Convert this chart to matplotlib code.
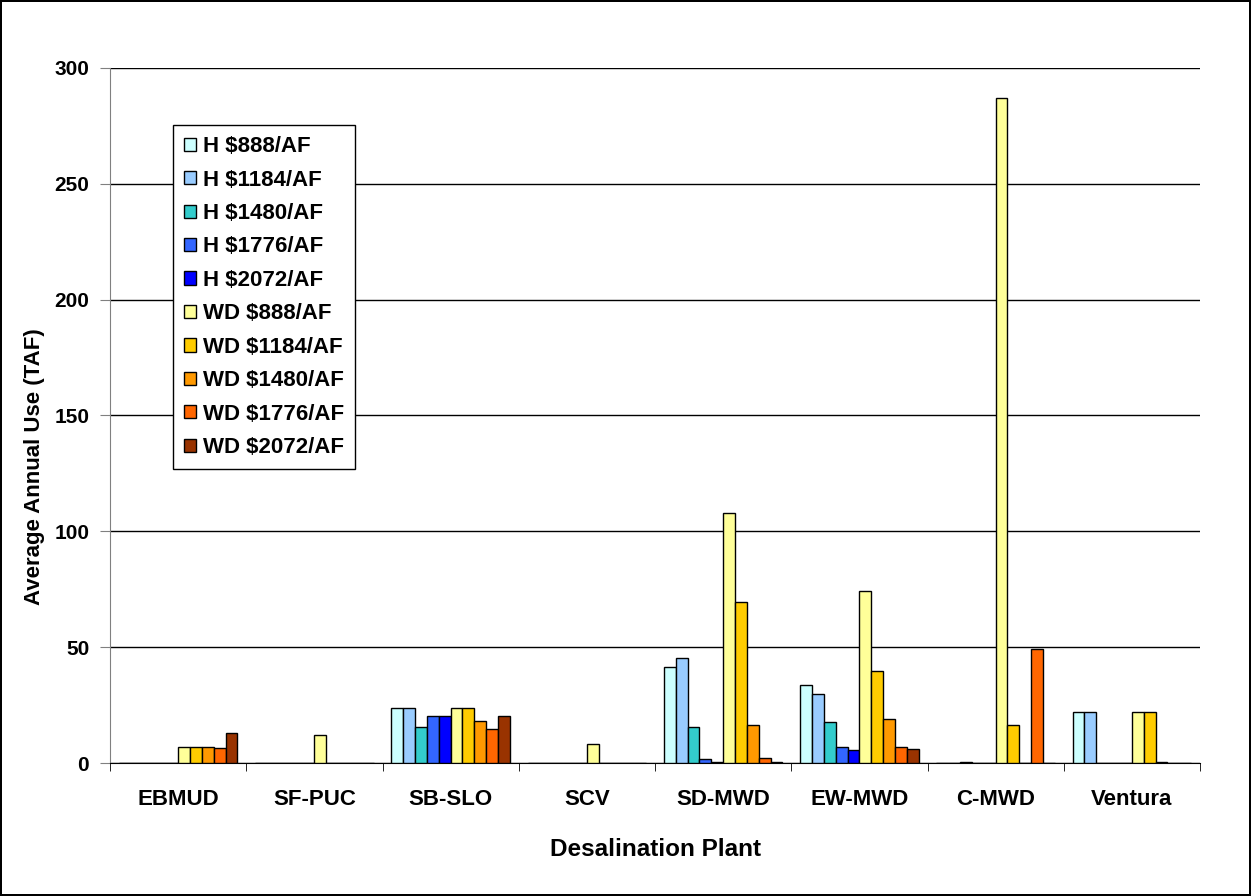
import matplotlib.pyplot as plt
import numpy as np

plt.rcParams['font.family'] = ['Liberation Sans', 'DejaVu Sans']
plt.rcParams['font.weight'] = 'bold'

plants = ['EBMUD', 'SF-PUC', 'SB-SLO', 'SCV', 'SD-MWD', 'EW-MWD', 'C-MWD', 'Ventura']
series = ['H $888/AF', 'H $1184/AF', 'H $1480/AF', 'H $1776/AF', 'H $2072/AF',
          'WD $888/AF', 'WD $1184/AF', 'WD $1480/AF', 'WD $1776/AF', 'WD $2072/AF']
colors = ['#CCFFFF', '#99CCFF', '#33CCCC', '#3366FF', '#0000FF',
          '#FFFF99', '#FFCC00', '#FF9900', '#FF6600', '#993300']

# one list per series, values per plant (TAF)
h_888 = [0, 0, 23.6, 0, 41.5, 33.6, 0, 21.9]
h_1184 = [0, 0, 23.6, 0, 45.3, 29.8, 0, 21.9]
h_1480 = [0, 0, 15.7, 0, 15.6, 17.8, 0.3, 0]
h_1776 = [0, 0, 20.4, 0, 1.6, 6.7, 0, 0]
h_2072 = [0, 0, 20.4, 0, 0.4, 5.6, 0, 0]
wd_888 = [6.9, 12.1, 23.6, 8.4, 107.9, 74.2, 287, 21.9]
wd_1184 = [6.9, 0, 23.6, 0, 69.4, 39.5, 16.2, 21.9]
wd_1480 = [6.9, 0, 18.0, 0, 16.2, 18.8, 0, 0.4]
wd_1776 = [6.4, 0, 14.7, 0, 2.0, 6.7, 49.3, 0]
wd_2072 = [13.1, 0, 20.4, 0, 0.6, 6.2, 0, 0]

values = [h_888, h_1184, h_1480, h_1776, h_2072,
          wd_888, wd_1184, wd_1480, wd_1776, wd_2072]

fig = plt.figure(figsize=(12.51, 8.96), dpi=100, linewidth=1.5, edgecolor='black')
ax = fig.add_axes([110 / 1251, 1 - 763 / 896, 1090 / 1251, 695 / 896])

x = np.arange(len(plants))
n = len(series)
w = 1 / (n + 1.5)
for i, (name, vals, c) in enumerate(zip(series, values, colors)):
    ax.bar(x - n * w / 2 + (i + 0.5) * w, vals, width=w, color=c,
           edgecolor='black', linewidth=1, label=name, zorder=3)

ax.set_xlim(-0.5, len(plants) - 0.5)
ax.set_ylim(0, 300)
ax.set_yticks(range(0, 301, 50))
ax.yaxis.grid(True, color='black', linewidth=1, zorder=0)
ax.set_xticks(x)
ax.set_xticklabels(plants)
ax.set_xticks(np.arange(-0.5, len(plants)), minor=True)
ax.tick_params(axis='x', which='major', length=0, pad=19, labelsize=16)
ax.tick_params(axis='x', which='minor', length=6, direction='out')
ax.tick_params(axis='y', length=7, direction='out', labelsize=15, pad=8, color='gray')
ax.spines['top'].set_visible(False)
ax.spines['right'].set_visible(False)
ax.spines['left'].set_color('gray')
ax.spines['bottom'].set_color('black')

ax.set_xlabel('Desalination Plant', fontsize=17.5, fontweight='bold', labelpad=20)
ax.set_ylabel('Average Annual Use (TAF)', fontsize=16, fontweight='bold')
ax.yaxis.set_label_coords(-0.06, 0.427)

leg = ax.legend(loc='upper left', bbox_to_anchor=(0.058, 0.918), fontsize=16,
                handlelength=0.54, handleheight=0.54, handletextpad=0.3,
                labelspacing=0.56, borderpad=0.5, borderaxespad=0,
                fancybox=False, edgecolor='black', framealpha=1)
leg.get_frame().set_linewidth(1)
leg.set_zorder(5)

fig.savefig('out.png', dpi=100)
